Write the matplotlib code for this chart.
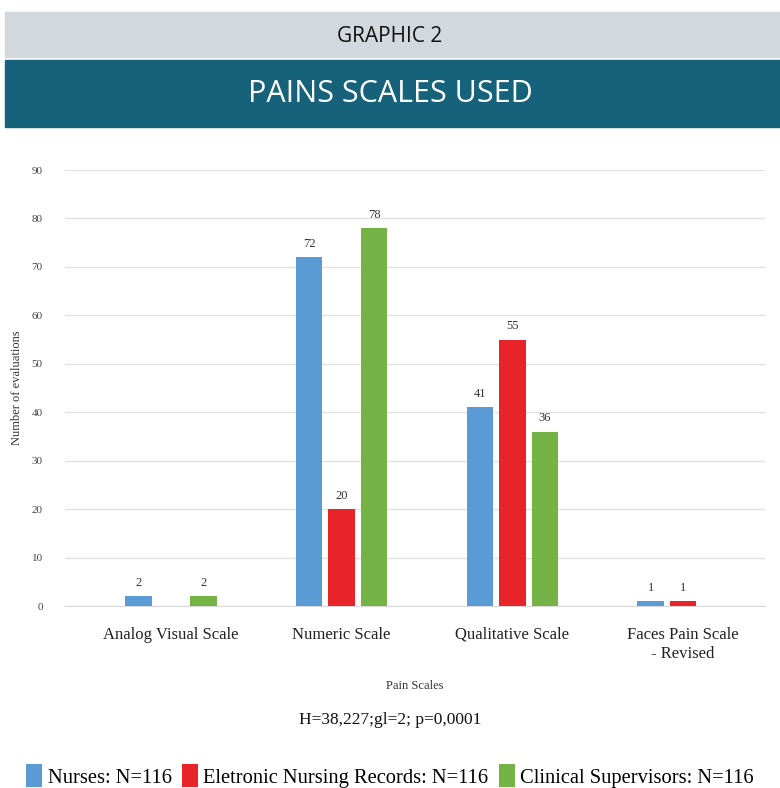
import numpy as np
import matplotlib
matplotlib.use("Agg")
import matplotlib.pyplot as plt
from matplotlib.patches import Rectangle

# data
categories = ["Analog Visual Scale", "Numeric Scale", "Qualitative Scale", "Faces Pain Scale\n- Revised"]
nurses = [2, 72, 41, 1]
records = [0, 20, 55, 1]
supervisors = [2, 78, 36, 0]
series_names = ["Nurses: N=116", "Eletronic Nursing Records: N=116", "Clinical Supervisors: N=116"]
colors = ["#5B9BD5", "#E8232A", "#76B347"]
yticks = list(range(0, 100, 10))

fig = plt.figure(figsize=(7.8, 7.88), dpi=100)

# header banners
fig.patches.append(Rectangle((5 / 780, 1 - 57 / 788), 775 / 780, 45 / 788,
                             transform=fig.transFigure, color="#D3D7DE", zorder=0))
fig.patches.append(Rectangle((5 / 780, 1 - 127 / 788), 775 / 780, 67 / 788,
                             transform=fig.transFigure, color="#16627A", zorder=0))
fig.text(0.5, 1 - 36 / 788, "GRAPHIC 2", ha="center", va="center",
         fontsize=15, family="Open Sans", color="#111111")
fig.text(0.5, 1 - 94 / 788, "PAINS SCALES USED", ha="center", va="center",
         fontsize=22, family="Open Sans", color="white")

ax = fig.add_axes([65 / 780, 1 - 606 / 788, 700 / 780, 436 / 788])
x = np.arange(len(categories))
w = 0.155
step = 0.19
for i, vals in enumerate([nurses, records, supervisors]):
    pos = x + (i - 1) * step
    ax.bar(pos, vals, width=w, color=colors[i], label=series_names[i], zorder=3)
    for p, v in zip(pos, vals):
        if v > 0:
            ax.text(p, v + 1.5, str(v), ha="center", va="bottom",
                    fontsize=9, family="Liberation Serif", color="#333333")

ax.set_ylim(0, 90)
ax.set_xlim(-0.62, 3.48)
ax.set_yticks(yticks)
ax.set_yticklabels([str(t) for t in yticks], family="Liberation Serif", fontsize=8, color="#444444")
ax.set_xticks(x)
ax.set_xticklabels(categories, family="Liberation Serif", fontsize=12, color="#222222", linespacing=1.25)
ax.tick_params(axis="both", length=0)
ax.tick_params(axis="y", pad=16)
ax.tick_params(axis="x", pad=15)
ax.grid(axis="y", color="#E2E2E2", linewidth=1, zorder=0)
for s in ["top", "right", "left"]:
    ax.spines[s].set_visible(False)
ax.spines["bottom"].set_color("#D9D9D9")
ax.set_ylabel("Number of evaluations", family="Liberation Serif", fontsize=9, color="#333333", labelpad=6)
ax.set_xlabel("Pain Scales", family="Liberation Serif", fontsize=9, color="#333333", labelpad=13)

fig.text(0.5, 1 - 720 / 788, "H=38,227;gl=2; p=0,0001", ha="center", va="center",
         fontsize=12.5, family="Liberation Serif", color="#111111")

handles, labels = ax.get_legend_handles_labels()
fig.legend(handles, labels, loc="center", bbox_to_anchor=(0.5, 1 - 776 / 788), ncol=3,
           frameon=False, prop={"family": "Liberation Serif", "size": 14.8},
           handlelength=0.8, handleheight=1.3, handletextpad=0.25, columnspacing=0.5)

fig.savefig("out.png", dpi=100)
